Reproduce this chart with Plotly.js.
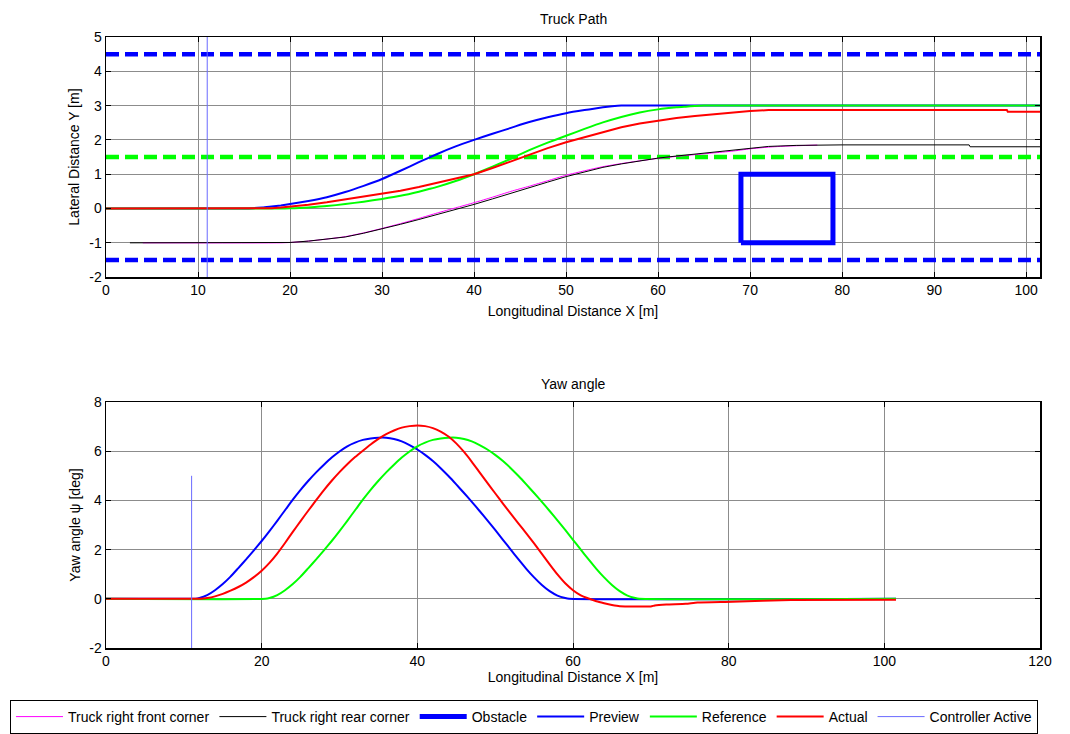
<!DOCTYPE html>
<html>
<head>
<meta charset="utf-8">
<script src="https://cdn.plot.ly/plotly-3.0.1.min.js"></script>
<style>
html,body{margin:0;padding:0;background:#fff;}
#chart{width:1070px;height:734px;}
</style>
</head>
<body>
<div id="chart"></div>
<script>
// ---------- Truck path (top) ----------
const laneX = [0, 101.5];
const laneLeftY = [4.5, 4.5];
const laneCenterY = [1.5, 1.5];
const laneRightY = [-1.5, -1.5];

const obstacleX = [69, 79, 79, 69, 69];
const obstacleY = [-1, -1, 1, 1, -1];

const ctrlX = [11, 11];
const ctrlPathY = [-2, 5];
const ctrlYawY = [-2, 5];

const previewPathX = [0, 15, 16, 17, 18, 19, 20, 22, 24, 26, 28, 30, 32, 34, 35, 36, 38, 40, 42, 44, 45, 46, 48, 50, 52, 53, 54, 55, 56, 101.5];
const previewPathY = [0, 0, 0.01, 0.03, 0.06, 0.09, 0.13, 0.22, 0.33, 0.48, 0.66, 0.86, 1.1, 1.35, 1.47, 1.59, 1.81, 2.0, 2.18, 2.35, 2.44, 2.52, 2.66, 2.78, 2.87, 2.91, 2.95, 2.98, 3.0, 3.0];

const refPathX = [0, 19, 20, 21, 22, 24, 26, 28, 30, 32, 34, 35, 36, 38, 40, 42, 44, 45, 46, 48, 50, 52, 54, 56, 58, 60, 62, 63, 64, 65, 101.5];
const refPathY = [0, 0, 0.005, 0.015, 0.03, 0.07, 0.13, 0.2, 0.28, 0.37, 0.49, 0.56, 0.63, 0.8, 1.0, 1.22, 1.45, 1.58, 1.7, 1.92, 2.12, 2.32, 2.51, 2.67, 2.8, 2.89, 2.95, 2.97, 2.99, 3.0, 3.0];

const actPathX = [0, 17, 18, 19, 20, 22, 24, 26, 28, 30, 32, 34, 35, 36, 38, 40, 42, 44, 45, 46, 48, 50, 52, 54, 56, 58, 60, 62, 64, 66, 68, 70, 72, 97.9, 98, 101.5];
const actPathY = [0, 0, 0.01, 0.03, 0.05, 0.11, 0.18, 0.26, 0.34, 0.43, 0.52, 0.63, 0.69, 0.76, 0.88, 1.0, 1.18, 1.38, 1.48, 1.57, 1.76, 1.93, 2.08, 2.23, 2.37, 2.48, 2.57, 2.64, 2.7, 2.75, 2.79, 2.84, 2.87, 2.87, 2.82, 2.82];

const rearX = [2.6, 19, 20, 22, 24, 26, 28, 30, 32, 34, 35, 36, 38, 40, 42, 44, 46, 48, 50, 52, 54, 56, 58, 60, 62, 64, 66, 68, 70, 72, 75, 80, 93.8, 93.9, 101.5];
const rearY = [-1, -1, -0.99, -0.95, -0.9, -0.83, -0.72, -0.6, -0.46, -0.32, -0.25, -0.17, -0.02, 0.12, 0.28, 0.45, 0.61, 0.77, 0.93, 1.07, 1.2, 1.3, 1.39, 1.47, 1.53, 1.59, 1.65, 1.71, 1.77, 1.81, 1.84, 1.855, 1.855, 1.8, 1.8];

const frontX = [4, 19, 20, 22, 24, 26, 28, 30, 32, 34, 36, 38, 40, 42, 44, 46, 48, 50, 52, 54, 56, 58, 60, 62, 64, 66, 68, 70, 72, 74, 77.3];
const frontY = [-1, -1, -0.99, -0.95, -0.89, -0.82, -0.71, -0.58, -0.44, -0.29, -0.13, 0.02, 0.17, 0.33, 0.5, 0.65, 0.81, 0.97, 1.1, 1.22, 1.31, 1.39, 1.46, 1.52, 1.57, 1.62, 1.67, 1.74, 1.79, 1.82, 1.85];

// ---------- Yaw angle (bottom) ----------
const previewYawX = [0, 11, 11.5, 12, 13, 14, 15, 16, 17, 18, 19, 20, 21, 22, 23, 24, 25, 26, 27, 28, 29, 30, 31, 32, 33, 34, 35, 36, 37, 38, 39, 40, 41, 42, 43, 44, 45, 46, 47, 48, 49, 50, 51, 52, 53, 54, 55, 56, 57, 58, 59, 59.5, 101.5];
const previewYawY = [0, 0, 0, 0.03, 0.15, 0.35, 0.6, 0.9, 1.25, 1.6, 1.97, 2.35, 2.75, 3.17, 3.6, 4.03, 4.43, 4.8, 5.14, 5.45, 5.74, 5.99, 6.2, 6.35, 6.46, 6.52, 6.55, 6.55, 6.5, 6.4, 6.25, 6.07, 5.85, 5.6, 5.31, 4.99, 4.65, 4.3, 3.94, 3.57, 3.19, 2.8, 2.4, 2.0, 1.6, 1.22, 0.87, 0.56, 0.31, 0.13, 0.03, 0, 0];

const refYawX = [0, 20.5, 21, 22, 23, 24, 25, 26, 27, 28, 29, 30, 31, 32, 33, 34, 35, 36, 37, 38, 39, 40, 41, 42, 43, 44, 45, 46, 47, 48, 49, 50, 51, 52, 53, 54, 55, 56, 57, 58, 59, 60, 61, 62, 63, 64, 65, 66, 67, 68, 68.5, 101.5];
const refYawY = [0, 0, 0.03, 0.15, 0.35, 0.6, 0.9, 1.25, 1.6, 1.97, 2.35, 2.75, 3.17, 3.6, 4.03, 4.43, 4.8, 5.14, 5.45, 5.74, 5.99, 6.2, 6.35, 6.46, 6.52, 6.55, 6.55, 6.5, 6.4, 6.25, 6.07, 5.85, 5.6, 5.31, 4.99, 4.65, 4.3, 3.94, 3.57, 3.19, 2.8, 2.4, 2.0, 1.6, 1.22, 0.87, 0.56, 0.31, 0.13, 0.03, 0, 0];

const actYawX = [0, 12, 12.5, 13, 14, 15, 16, 17, 18, 19, 20, 21, 22, 23, 24, 25, 26, 27, 28, 29, 30, 31, 32, 33, 34, 35, 36, 37, 38, 39, 40, 41, 42, 43, 44, 45, 46, 47, 48, 49, 50, 51, 52, 53, 54, 55, 56, 57, 58, 59, 60, 61, 62, 63, 64, 65, 66, 70, 70.5, 72, 74.5, 76, 80.5, 88, 101.5];
const actYawY = [0, 0, 0.01, 0.03, 0.1, 0.2, 0.33, 0.48, 0.66, 0.88, 1.14, 1.46, 1.84, 2.27, 2.72, 3.16, 3.59, 4.01, 4.42, 4.8, 5.15, 5.47, 5.76, 6.02, 6.27, 6.5, 6.69, 6.84, 6.96, 7.02, 7.05, 7.02, 6.94, 6.8, 6.6, 6.32, 5.97, 5.57, 5.14, 4.71, 4.29, 3.87, 3.46, 3.06, 2.66, 2.25, 1.83, 1.4, 0.99, 0.63, 0.35, 0.14, 0.01, -0.1, -0.18, -0.25, -0.3, -0.31, -0.27, -0.23, -0.2, -0.15, -0.12, -0.05, -0.04];

// ---------- Tick labels ----------
const pathXTicks = [0, 10, 20, 30, 40, 50, 60, 70, 80, 90, 100];
const pathYTicks = [-2, -1, 0, 1, 2, 3, 4, 5];
const pathYTickText = ['-2', '-1', '0', '1', '2', '3', '4', '5'];
const yawXTicks = [0, 20, 40, 60, 80, 100, 120];
const yawYTicks = [-2, 0, 2, 4, 6, 8];
const yawYTickText = ['-2', '0', '2', '4', '6', '8'];

const FONT = 'Liberation Sans, Arial, sans-serif';
const BLUE = '#0000ff', GREEN = '#00ff00', RED = '#ff0000', MAG = '#ff00ff', CTRL = '#6a6aff';
const SM = {shape: 'spline', smoothing: 0.5};

const traces = [
  {x: laneX, y: laneLeftY, mode: 'lines', line: {color: BLUE, width: 4.5, dash: '13px,6px'}, showlegend: false, hoverinfo: 'skip'},
  {x: laneX, y: laneRightY, mode: 'lines', line: {color: BLUE, width: 4.5, dash: '13px,6px'}, showlegend: false, hoverinfo: 'skip'},
  {x: laneX, y: laneCenterY, mode: 'lines', line: {color: GREEN, width: 4.5, dash: '13px,6px'}, showlegend: false, hoverinfo: 'skip'},
  {x: frontX, y: frontY, mode: 'lines', name: 'Truck right front corner', line: Object.assign({color: MAG, width: 1}, SM)},
  {x: rearX, y: rearY, mode: 'lines', name: 'Truck right rear corner', line: {color: '#000000', width: 1}},
  {x: obstacleX, y: obstacleY, mode: 'lines', name: 'Obstacle', line: {color: BLUE, width: 5}},
  {x: previewPathX, y: previewPathY, mode: 'lines', name: 'Preview', line: Object.assign({color: BLUE, width: 2}, SM)},
  {x: refPathX, y: refPathY, mode: 'lines', name: 'Reference', line: Object.assign({color: GREEN, width: 2}, SM)},
  {x: actPathX, y: actPathY, mode: 'lines', name: 'Actual', line: {color: RED, width: 2}},
  {x: ctrlX, y: ctrlPathY, mode: 'lines', name: 'Controller Active', line: {color: CTRL, width: 1}},
  {x: previewYawX, y: previewYawY, xaxis: 'x2', yaxis: 'y2', mode: 'lines', line: Object.assign({color: BLUE, width: 2}, SM), showlegend: false},
  {x: refYawX, y: refYawY, xaxis: 'x2', yaxis: 'y2', mode: 'lines', line: Object.assign({color: GREEN, width: 2}, SM), showlegend: false},
  {x: actYawX, y: actYawY, xaxis: 'x2', yaxis: 'y2', mode: 'lines', line: Object.assign({color: RED, width: 2}, SM), showlegend: false},
  {x: ctrlX, y: ctrlYawY, xaxis: 'x2', yaxis: 'y2', mode: 'lines', line: {color: CTRL, width: 1}, showlegend: false}
];

const axBase = {
  showline: true, linecolor: '#000', linewidth: 1.5, mirror: 'ticks',
  ticks: 'inside', ticklen: 5, tickwidth: 1, tickcolor: '#000',
  showgrid: true, gridcolor: '#8c8c8c', gridwidth: 1, zeroline: false,
  tickfont: {family: FONT, size: 14, color: '#000'},
  automargin: false, fixedrange: true
};

const layout = {
  width: 1070, height: 734,
  paper_bgcolor: '#fff', plot_bgcolor: '#fff',
  font: {family: FONT, size: 14, color: '#000'},
  margin: {l: 106, r: 30, t: 37, b: 86, autoexpand: false},
  showlegend: true,
  xaxis: Object.assign({}, axBase, {
    domain: [0, 1], anchor: 'y', range: [0, 101.5],
    tickmode: 'array', tickvals: pathXTicks,
    title: {text: 'Longitudinal Distance X [m]', font: {family: FONT, size: 14}, standoff: 9}
  }),
  yaxis: Object.assign({}, axBase, {
    domain: [0.607, 1], anchor: 'x', range: [-2, 5],
    tickmode: 'array', tickvals: pathYTicks, ticktext: pathYTickText,
    title: {text: 'Lateral Distance Y [m]', font: {family: FONT, size: 14}, standoff: 6}
  }),
  xaxis2: Object.assign({}, axBase, {
    domain: [0, 1], anchor: 'y2', range: [0, 120],
    tickmode: 'array', tickvals: yawXTicks,
    title: {text: 'Longitudinal Distance X [m]', font: {family: FONT, size: 14}, standoff: 4}
  }),
  yaxis2: Object.assign({}, axBase, {
    domain: [0, 0.4026], anchor: 'x2', range: [-2, 8],
    tickmode: 'array', tickvals: yawYTicks, ticktext: yawYTickText,
    title: {text: 'Yaw angle ψ [deg]', font: {family: FONT, size: 14}, standoff: 5}
  }),
  annotations: [
    {text: 'Truck Path', xref: 'paper', yref: 'paper', x: 0.5, y: 1, xanchor: 'center', yanchor: 'bottom', yshift: 8, showarrow: false, font: {family: FONT, size: 14, color: '#000'}},
    {text: 'Yaw angle', xref: 'paper', yref: 'paper', x: 0.5, y: 0.4026, xanchor: 'center', yanchor: 'bottom', yshift: 8, showarrow: false, font: {family: FONT, size: 14, color: '#000'}}
  ],
  legend: {
    orientation: 'h', xref: 'paper', yref: 'paper',
    x: -0.1028, xanchor: 'left', y: -0.0851, yanchor: 'top',
    bgcolor: '#fff', bordercolor: '#000', borderwidth: 1,
    font: {family: FONT, size: 14, color: '#000'},
    itemwidth: 47, traceorder: 'normal'
  }
};

Plotly.newPlot('chart', traces, layout, {displayModeBar: false, staticPlot: true});
</script>
</body>
</html>
